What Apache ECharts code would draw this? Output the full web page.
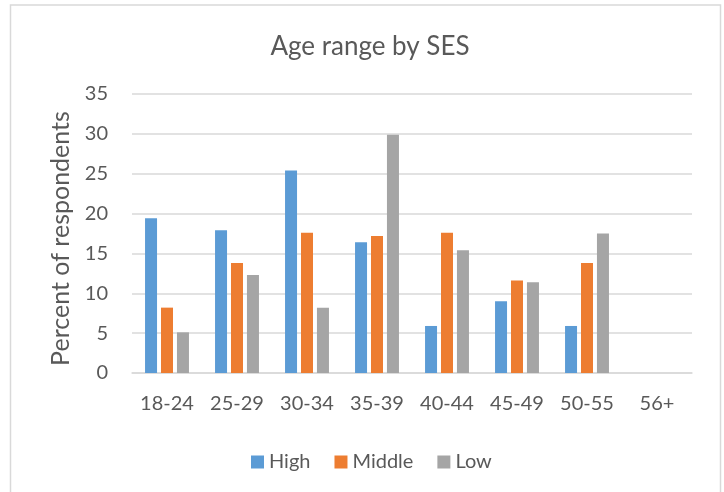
<!DOCTYPE html>
<html>
<head>
<meta charset="utf-8">
<script src="https://cdn.jsdelivr.net/npm/echarts@6/dist/echarts.min.js"></script>
<style>
  html, body { margin: 0; padding: 0; background: #fff; }
  #chart { width: 724px; height: 492px; }
</style>
</head>
<body>
<div id="chart"></div>
<script>
// Age groups along the x axis
var ageGroups = ['18-24', '25-29', '30-34', '35-39', '40-44', '45-49', '50-55', '56+'];

// Percent of respondents in each age group, by socio-economic status
var highSES   = [19.4, 17.9, 25.4, 16.4, 5.9, 9.0, 5.9, 0];
var middleSES = [8.2, 13.8, 17.6, 17.2, 17.6, 11.6, 13.8, 0];
var lowSES    = [5.1, 12.3, 8.2, 29.9, 15.4, 11.4, 17.5, 0];

var seriesNames = ['High', 'Middle', 'Low'];
var seriesColors = ['#5B9BD5', '#ED7D31', '#A5A5A5'];

var textColor = '#595959';
var fontFamily = 'Lato, "Open Sans", sans-serif';

var chart = echarts.init(document.getElementById('chart'), null, { renderer: 'canvas' });

function barSeries(name, data, color) {
  return {
    name: name,
    type: 'bar',
    data: data,
    barWidth: 12,
    barGap: '33%',
    itemStyle: { color: color },
    emphasis: { disabled: true }
  };
}

chart.setOption({
  animation: false,
  backgroundColor: '#ffffff',
  textStyle: { fontFamily: fontFamily, color: textColor },
  graphic: [{
    type: 'rect',
    shape: { x: 10.5, y: 5, width: 710, height: 520 },
    style: { fill: 'none', stroke: '#D9D9D9', lineWidth: 1.5 },
    silent: true,
    z: -1
  }],
  title: {
    text: 'Age range by SES',
    left: 365,
    textAlign: 'center',
    top: 29,
    textStyle: { fontFamily: fontFamily, fontSize: 26, fontWeight: 'normal', color: textColor }
  },
  legend: {
    data: seriesNames,
    top: 447,
    left: 246,
    itemWidth: 13,
    itemHeight: 13,
    itemGap: 24,
    icon: 'rect',
    textStyle: { fontFamily: fontFamily, fontSize: 20, color: textColor }
  },
  grid: { left: 132, right: 32, top: 94, bottom: 119 },
  xAxis: {
    type: 'category',
    data: ageGroups,
    axisLine: { lineStyle: { color: '#D9D9D9', width: 1.5 } },
    axisTick: { show: false },
    axisLabel: { fontFamily: fontFamily, fontSize: 20, color: textColor, margin: 21 }
  },
  yAxis: {
    type: 'value',
    min: 0,
    max: 35,
    interval: 5,
    name: 'Percent of respondents',
    nameLocation: 'middle',
    nameGap: 57,
    nameRotate: 90,
    nameTextStyle: { fontFamily: fontFamily, fontSize: 25, color: textColor, padding: [0, 10, 0, 0] },
    axisLine: { show: false },
    axisTick: { show: false },
    axisLabel: { fontFamily: fontFamily, fontSize: 20, color: textColor, margin: 24 },
    splitLine: { lineStyle: { color: '#D9D9D9', width: 1.5 } }
  },
  series: [
    barSeries(seriesNames[0], highSES, seriesColors[0]),
    barSeries(seriesNames[1], middleSES, seriesColors[1]),
    barSeries(seriesNames[2], lowSES, seriesColors[2])
  ]
});
</script>
</body>
</html>
